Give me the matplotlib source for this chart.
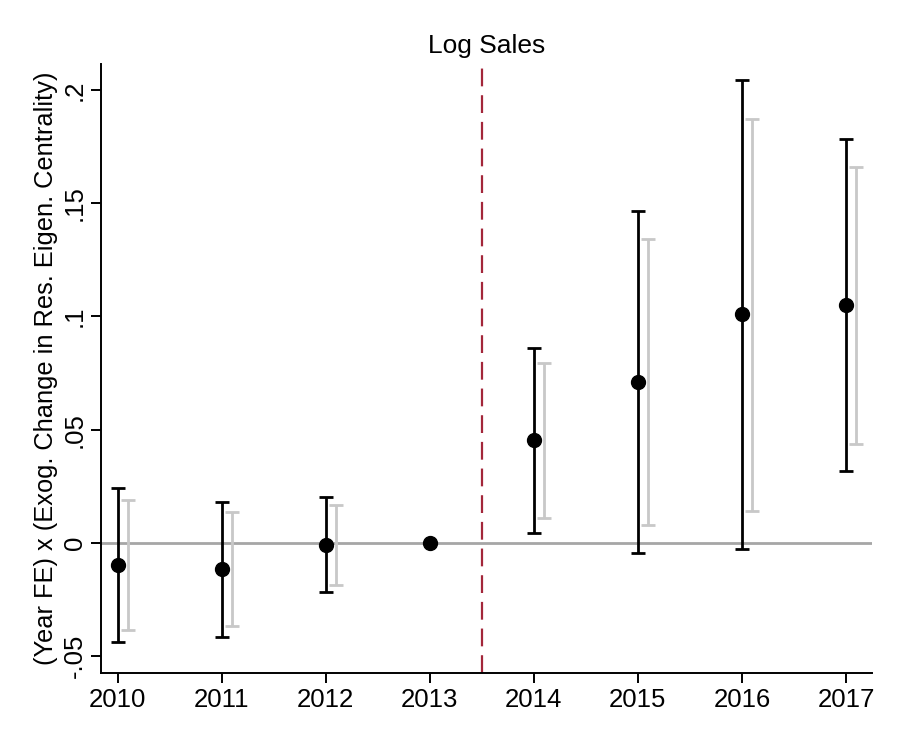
import matplotlib.pyplot as plt

plt.rcParams["font.family"] = ["Liberation Sans", "DejaVu Sans"]

# event-study coefficients
years = [2010, 2011, 2012, 2013, 2014, 2015, 2016, 2017]
coef = [-0.0097, -0.0116, -0.0009, 0.0, 0.0453, 0.0711, 0.1010, 0.1051]
ci_lo = [-0.0439, -0.0416, -0.0218, 0.0, 0.0046, -0.0046, -0.0025, 0.0317]
ci_hi = [0.0244, 0.0182, 0.0202, 0.0, 0.0862, 0.1466, 0.2043, 0.1782]

# second (grey) interval, no estimate for 2013
grey_years = [2010, 2011, 2012, 2014, 2015, 2016, 2017]
grey_lo = [-0.0385, -0.0367, -0.0184, 0.0112, 0.0079, 0.0143, 0.0437]
grey_hi = [0.0189, 0.0135, 0.0168, 0.0793, 0.1342, 0.1873, 0.1661]

y_ticks = [-0.05, 0, 0.05, 0.1, 0.15, 0.2]
y_tick_labels = ["-.05", "0", ".05", ".1", ".15", ".2"]

fig = plt.figure(figsize=(8.99, 7.49), dpi=100)
ax = fig.add_axes([0.1123, 0.1015, 0.8577, 0.8131])

ax.axhline(0, color="#a6a6a6", linewidth=2, zorder=1)
ax.axvline(2013.5, color="#a3263a", linewidth=1.6, linestyle=(0, (8, 4)), zorder=1)

# grey intervals, shifted a bit to the right
gx = [y + 0.1 for y in grey_years]
gmid = [(lo + hi) / 2 for lo, hi in zip(grey_lo, grey_hi)]
gerr = [[m - lo for m, lo in zip(gmid, grey_lo)],
        [hi - m for m, hi in zip(gmid, grey_hi)]]
ax.errorbar(gx, gmid, yerr=gerr, fmt="none", ecolor="#c8c8c8",
            elinewidth=2, capsize=5, capthick=2, zorder=2)

# black intervals with point estimates
black_years = [y for y in years if y != 2013]
b_coef = [c for y, c in zip(years, coef) if y != 2013]
b_lo = [c for y, c in zip(years, ci_lo) if y != 2013]
b_hi = [c for y, c in zip(years, ci_hi) if y != 2013]
berr = [[c - lo for c, lo in zip(b_coef, b_lo)],
        [hi - c for c, hi in zip(b_coef, b_hi)]]
ax.errorbar(black_years, b_coef, yerr=berr, fmt="none", ecolor="black",
            elinewidth=2, capsize=5, capthick=2, zorder=3)
ax.plot(years, coef, "o", color="black", markersize=10, zorder=4)

ax.set_xlim(2009.84, 2017.25)
ax.set_ylim(-0.0574, 0.2115)
ax.set_xticks(years)
ax.set_xticklabels([str(y) for y in years])
ax.set_yticks(y_ticks)
ax.set_yticklabels(y_tick_labels, rotation=90, va="center")

for side in ["top", "right"]:
    ax.spines[side].set_visible(False)
for side in ["left", "bottom"]:
    ax.spines[side].set_linewidth(1.4)

ax.tick_params(axis="both", direction="out", length=7, width=1.4, labelsize=18.5)
ax.tick_params(axis="x", pad=4)
ax.tick_params(axis="y", pad=3)

ax.set_title("Log Sales", fontsize=19, pad=8)
ax.set_ylabel("(Year FE) x (Exog. Change in Res. Eigen. Centrality)", fontsize=18.3, labelpad=4)

fig.savefig("out.png", dpi=100)
